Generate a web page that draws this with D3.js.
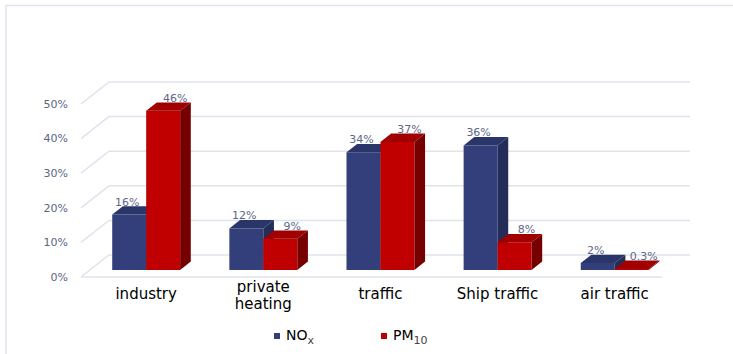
<!DOCTYPE html>
<html>
<head>
<meta charset="utf-8">
<script src="https://cdn.jsdelivr.net/npm/d3@7"></script>
<style>
  html, body { margin: 0; padding: 0; background: #fff; }
  svg { display: block; font-family: "DejaVu Sans", Verdana, sans-serif; }
</style>
</head>
<body>
<svg id="chart" width="733" height="354"></svg>
<script>
// Emission shares by source
const categories = [["industry"], ["private", "heating"], ["traffic"], ["Ship traffic"], ["air traffic"]];
const noxValues = [16, 12, 34, 36, 2];
const pmValues = [46, 9, 37, 8, 0.3];
const noxLabels = ["16%", "12%", "34%", "36%", "2%"];
const pmLabels = ["46%", "9%", "37%", "8%", "0.3%"];
const yTicks = [0, 10, 20, 30, 40, 50];

const series = [
  { key: "nox", values: noxValues, labels: noxLabels,
    front: "#323f7b", top: "#2a3669", side: "#232d58", labelDx: -2 },
  { key: "pm", values: pmValues, labels: pmLabels,
    front: "#c00000", top: "#a00000", side: "#760000", labelDx: 12 }
];

const svg = d3.select("#chart");

// Outer frame (top and left edges)
svg.append("path")
  .attr("d", "M6,354 L6,5.5 L733,5.5")
  .attr("fill", "none").attr("stroke", "#e2e4ed").attr("stroke-width", 1.5);

// Front plane scales plus an oblique depth vector for the 3D look
const x0 = 81, x1 = 662;
const y = d3.scaleLinear().domain([0, 50]).range([277, 104]);
const DX = 28, DY = -22;
const dFront = 0.32, dBack = 0.70;
const proj = (px, v, d) => [px + d * DX, y(v) + d * DY];

const x = d3.scaleBand()
  .domain(d3.range(categories.length))
  .range([x0, x1])
  .paddingInner(0.42)
  .paddingOuter(0.19);
const xs = d3.scaleBand().domain(series.map(s => s.key)).range([0, x.bandwidth()]);

// Gridlines: floor/side diagonal + back wall line
const grid = svg.append("g").attr("fill", "none")
  .attr("stroke", "#e0e3ec").attr("stroke-width", 1.5);
yTicks.forEach(t => {
  const a = proj(x0, t, 0), b = proj(x0, t, 1), c = proj(x1, t, 1);
  grid.append("path").attr("d", `M${a}L${b}L${c}`);
});
{
  const a = proj(x0, 0, 0), b = proj(x1, 0, 0);
  grid.append("path").attr("d", `M${a}L${b}`);
}

// Y axis tick labels
svg.append("g").selectAll("text").data(yTicks).join("text")
  .attr("x", 68).attr("y", d => y(d)).attr("dy", "0.35em")
  .attr("text-anchor", "end")
  .attr("font-size", 11).attr("fill", "#5b6583")
  .text(d => d + "%");

// Bars
const bars = svg.append("g");
categories.forEach((cat, i) => {
  series.forEach(s => {
    const v = s.values[i];
    const left = x(i) + xs(s.key), right = left + xs.bandwidth();
    const fl = proj(left, 0, dFront), fr = proj(right, 0, dFront);
    const tl = proj(left, v, dFront), tr = proj(right, v, dFront);
    const btl = proj(left, v, dBack), btr = proj(right, v, dBack);
    const bbr = proj(right, 0, dBack);
    bars.append("path")
      .attr("d", `M${fl}L${fr}L${tr}L${tl}Z`).attr("fill", s.front);
    bars.append("path")
      .attr("d", `M${tl}L${tr}L${btr}L${btl}Z`).attr("fill", s.top);
    bars.append("path")
      .attr("d", `M${fr}L${bbr}L${btr}L${tr}Z`).attr("fill", s.side);
  });
});

// Value labels
const labels = svg.append("g").attr("font-size", 11).attr("fill", "#5d6788")
  .attr("text-anchor", "middle");
categories.forEach((cat, i) => {
  series.forEach(s => {
    const left = x(i) + xs(s.key);
    const p = proj(left + xs.bandwidth() / 2, s.values[i], dFront);
    labels.append("text")
      .attr("x", p[0] + s.labelDx).attr("y", p[1] - 9)
      .text(s.labels[i]);
  });
});

// Category labels
const cats = svg.append("g").attr("font-size", 15).attr("fill", "#000")
  .attr("text-anchor", "middle");
categories.forEach((lines, i) => {
  const cx = x(i) + x.bandwidth() / 2 + dFront * DX;
  const t = cats.append("text").attr("x", cx);
  if (lines.length === 1) {
    t.attr("y", 299).text(lines[0]);
  } else {
    lines.forEach((ln, k) => {
      t.append("tspan").attr("x", cx).attr("y", 292 + k * 17).text(ln);
    });
  }
});

// Legend
const legendItems = [
  { color: series[0].front, main: "NO", sub: "x", x: 274 },
  { color: series[1].front, main: "PM", sub: "10", x: 381 }
];
const legend = svg.append("g");
legendItems.forEach(it => {
  legend.append("rect").attr("x", it.x).attr("y", 333)
    .attr("width", 6).attr("height", 6).attr("fill", it.color);
  const t = legend.append("text").attr("x", it.x + 12).attr("y", 340)
    .attr("font-size", 14).attr("fill", "#000");
  t.append("tspan").text(it.main);
  t.append("tspan").attr("dy", 4).attr("font-size", 11).attr("fill", "#444").text(it.sub);
});
</script>
</body>
</html>
